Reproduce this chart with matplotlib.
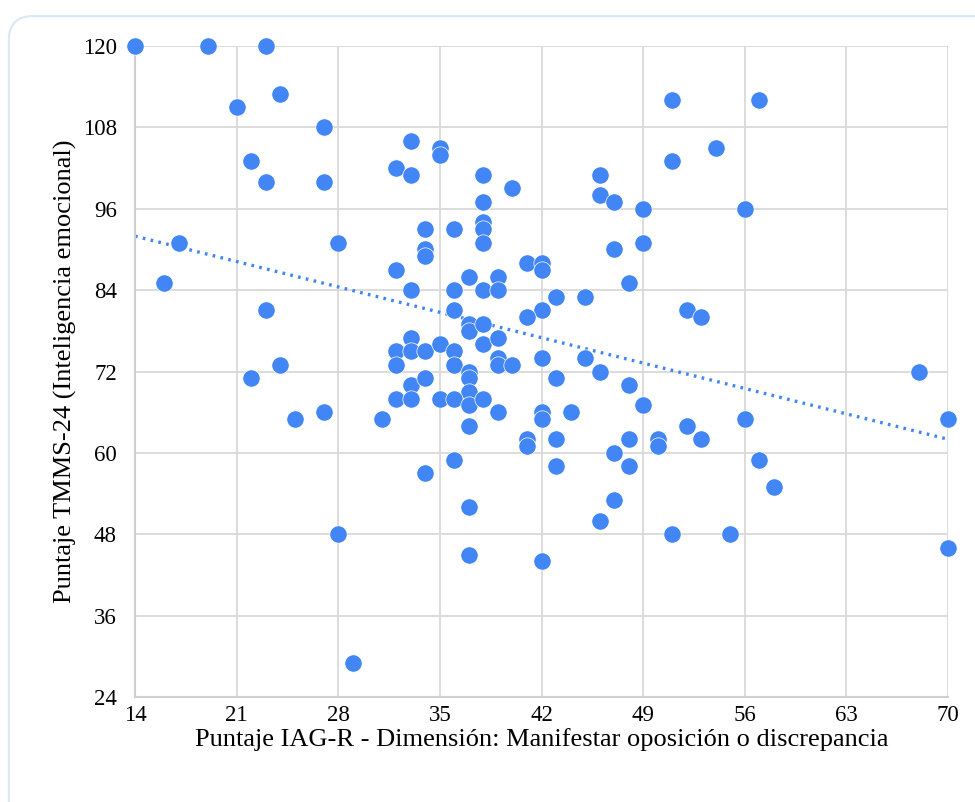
import numpy as np
import matplotlib.pyplot as plt
from matplotlib.patches import FancyBboxPatch

# Data (IAG-R score vs TMMS-24 score)
iag = [14, 19, 23, 24, 21, 27, 33, 22, 23, 27, 32, 33, 17, 28, 34, 34, 34, 32, 16, 33,
       23, 33, 32, 33, 32, 24, 22, 33, 32, 33, 34, 25, 27, 31, 34, 28, 29,
       35, 35, 38, 40, 38, 46, 46, 47, 49, 51, 36, 38, 38, 38, 47, 49, 41, 42, 42,
       37, 39, 36, 38, 39, 48, 43, 45, 52, 53, 36, 42, 41,
       37, 37, 38, 34, 35, 36, 36, 38, 39, 39, 39, 40, 42, 45, 46, 37, 37, 43, 37,
       35, 36, 37, 38, 39, 42, 42, 44, 48, 49, 52, 53, 37, 41, 41, 43, 48, 50, 50,
       47, 36, 48, 43, 47,
       37, 46, 51, 37, 42,
       57, 51, 54, 56, 68, 70, 70, 56, 57, 58, 55]
tmms = [120, 120, 120, 113, 111, 108, 106, 103, 100, 100, 102, 101, 91, 91, 93, 90, 89, 87, 85, 84,
        81, 77, 75, 75, 73, 73, 71, 70, 68, 68, 71, 65, 66, 65, 57, 48, 29,
        105, 104, 101, 99, 97, 101, 98, 97, 96, 103, 93, 94, 93, 91, 90, 91, 88, 88, 87,
        86, 86, 84, 84, 84, 85, 83, 83, 81, 80, 81, 81, 80,
        79, 78, 79, 75, 76, 75, 73, 76, 77, 74, 73, 73, 74, 74, 72, 72, 71, 71, 69,
        68, 68, 67, 68, 66, 66, 65, 66, 70, 67, 64, 62, 64, 62, 61, 62, 62, 62, 61,
        60, 59, 58, 58, 53,
        52, 50, 48, 45, 44,
        112, 112, 105, 96, 72, 65, 46, 65, 59, 55, 48]

x_ticks = [14, 21, 28, 35, 42, 49, 56, 63, 70]
y_ticks = [24, 36, 48, 60, 72, 84, 96, 108, 120]

blue = '#4285f4'
grid_c = '#d9d9d9'

plt.rcParams['font.family'] = ['Liberation Serif', 'DejaVu Serif']

fig = plt.figure(figsize=(9.75, 8.02), dpi=100)

# Rounded border around the chart
border = FancyBboxPatch((0.009, -0.05), 1.1, 1.03, transform=fig.transFigure,
                        boxstyle='round,pad=0,rounding_size=0.025',
                        facecolor='white', edgecolor='#dbe6f7', linewidth=1.5,
                        mutation_aspect=975 / 802, zorder=-10)
fig.patches.append(border)

ax = fig.add_axes([0.1385, 0.1309, 0.8338, 0.8117])
ax.set_facecolor('none')

ax.scatter(iag, tmms, s=155, color=blue, edgecolors='white', linewidths=0.5,
           zorder=3, clip_on=False)

# Linear trend line
coef = np.polyfit(iag, tmms, 1)
xs = np.array([14, 70])
ax.plot(xs, np.polyval(coef, xs), linestyle=(0, (0.8, 1.6)), color=blue,
        linewidth=2.4, zorder=2)

ax.set_xlim(14, 70)
ax.set_ylim(24, 120)
ax.set_xticks(x_ticks)
ax.set_yticks(y_ticks)
ax.grid(True, color=grid_c, linewidth=1.3, zorder=0)
ax.set_axisbelow(True)

for side in ['top', 'right']:
    ax.spines[side].set_visible(False)
for side in ['left', 'bottom']:
    ax.spines[side].set_color('#cfcfcf')
    ax.spines[side].set_linewidth(1.5)

ax.tick_params(length=0, labelsize=16.5, colors='black')
ax.tick_params(axis='x', pad=6)
ax.tick_params(axis='y', pad=13)

ax.set_xlabel('Puntaje IAG-R - Dimensión: Manifestar oposición o discrepancia',
              fontsize=19, labelpad=1)
ax.set_ylabel('Puntaje TMMS-24 (Inteligencia emocional)', fontsize=19, labelpad=4)

fig.savefig('out.png', dpi=100)
